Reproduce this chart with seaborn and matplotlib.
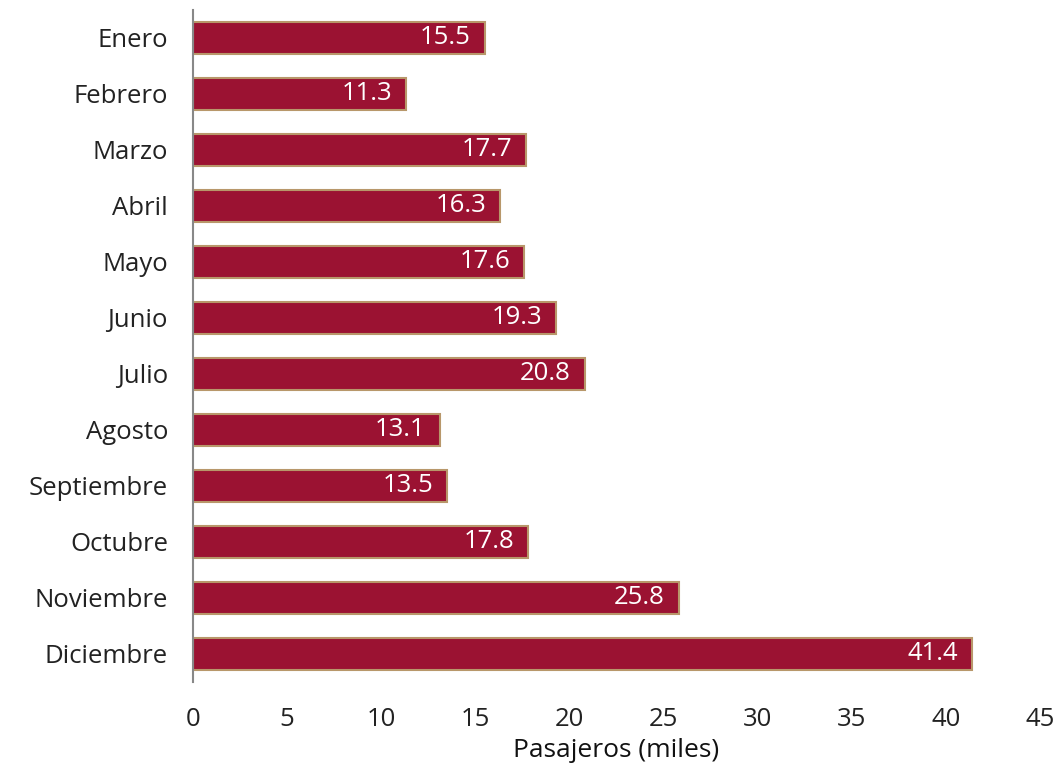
import matplotlib
matplotlib.use("Agg")
import matplotlib.pyplot as plt
import pandas as pd
import seaborn as sns

months = ["Enero", "Febrero", "Marzo", "Abril", "Mayo", "Junio", "Julio",
          "Agosto", "Septiembre", "Octubre", "Noviembre", "Diciembre"]
passengers = [15.5, 11.3, 17.7, 16.3, 17.6, 19.3, 20.8, 13.1, 13.5, 17.8, 25.8, 41.4]
xticks = [0, 5, 10, 15, 20, 25, 30, 35, 40, 45]

sns.set_style("white")
plt.rcParams["font.family"] = ["Open Sans", "DejaVu Sans"]

df = pd.DataFrame({"mes": months, "pasajeros": passengers})

fig = plt.figure(figsize=(10.63, 7.68), dpi=100)
ax = fig.add_axes([0.1816, 0.112, 0.7968, 0.875])

sns.barplot(data=df, x="pasajeros", y="mes", order=months, color="#9B1232",
            saturation=1, width=0.57, edgecolor="#B8976A", linewidth=1.5, ax=ax)

for container in ax.containers:
    texts = ax.bar_label(container, labels=[f"{v:.1f}" for v in passengers],
                         padding=-10, color="white", fontsize=18.5)
    for t in texts:
        t.set_ha("right")

ax.set_xlim(0, 45)
ax.set_ylim(11.5, -0.5)
ax.set_xticks(xticks)
ax.set_xticklabels([str(t) for t in xticks])
ax.tick_params(axis="both", length=0, labelsize=18.5, labelcolor="#222222")
ax.tick_params(axis="y", pad=18)
ax.tick_params(axis="x", pad=18)
ax.set_xlabel("Pasajeros (miles)", fontsize=19, color="#111111", labelpad=4)
ax.set_ylabel("")
for side in ["top", "right", "bottom"]:
    ax.spines[side].set_visible(False)
ax.spines["left"].set_color("#888888")
ax.spines["left"].set_linewidth(1.5)

fig.savefig("out.png", dpi=100)
